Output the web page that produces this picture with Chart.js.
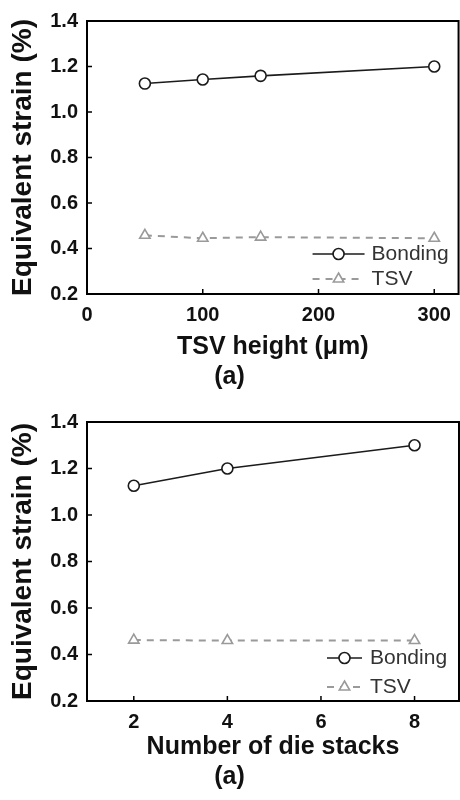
<!DOCTYPE html>
<html>
<head>
<meta charset="utf-8">
<title>Equivalent strain</title>
<script src="https://cdn.jsdelivr.net/npm/chart.js@4.4.1/dist/chart.umd.min.js"></script>
<style>
  html, body { margin: 0; padding: 0; background: #fff; }
  .panel { position: relative; width: 460px; height: 400px; }
</style>
</head>
<body>
<div class="panel"><canvas id="chart-height"></canvas></div>
<div class="panel"><canvas id="chart-stacks"></canvas></div>
<script>
// -- Data --
var tsvHeights = [50, 100, 150, 300];
var bondingByHeight = [1.125, 1.143, 1.159, 1.2];
var tsvByHeight = [0.458, 0.445, 0.45, 0.445];
var heightTicks = [0, 100, 200, 300];

var dieStacks = [2, 4, 8];
var bondingByStacks = [1.126, 1.2, 1.3];
var tsvByStacks = [0.462, 0.46, 0.46];
var stackTicks = [2, 4, 6, 8];

var strainTicks = [0.2, 0.4, 0.6, 0.8, 1.0, 1.2, 1.4];

var seriesNames = ['Bonding', 'TSV'];

Chart.defaults.font.family = '"Liberation Sans", Arial, sans-serif';
Chart.defaults.color = '#111';

var bondingColor = '#1b1b1b';
var tsvColor = '#9a9a9a';

function toPoints(xs, ys) {
  var out = [];
  for (var i = 0; i < xs.length; i++) {
    out.push({ x: xs[i], y: ys[i] });
  }
  return out;
}

// frame box, inward tick marks and the in-plot legend
var framePlugin = {
  id: 'frame',
  afterDraw: function (chart, args, opts) {
    var ctx = chart.ctx;
    var area = chart.chartArea;
    var xs = chart.scales.x;
    var ys = chart.scales.y;
    ctx.save();
    ctx.strokeStyle = '#000';
    ctx.lineWidth = 2;
    ctx.strokeRect(area.left, area.top, area.right - area.left, area.bottom - area.top);

    ctx.lineWidth = 1.5;
    ctx.beginPath();
    xs.ticks.forEach(function (t) {
      var px = xs.getPixelForValue(t.value);
      ctx.moveTo(px, area.bottom);
      ctx.lineTo(px, area.bottom - 5);
    });
    ys.ticks.forEach(function (t) {
      var py = ys.getPixelForValue(t.value);
      ctx.moveTo(area.left, py);
      ctx.lineTo(area.left + 5, py);
    });
    ctx.stroke();

    // legend
    var lg = opts.legend;
    chart.data.datasets.forEach(function (ds, i) {
      var y = area.bottom - lg.rows[i];
      var x0 = area.right - lg.lineStart;
      var x1 = area.right - lg.lineEnd;
      ctx.strokeStyle = ds.borderColor;
      ctx.lineWidth = ds.borderWidth;
      ctx.setLineDash(ds.borderDash || []);
      ctx.beginPath();
      ctx.moveTo(x0, y);
      ctx.lineTo(x1, y);
      ctx.stroke();
      ctx.setLineDash([]);
      ctx.fillStyle = ds.pointBackgroundColor;
      ctx.strokeStyle = ds.pointBorderColor;
      ctx.lineWidth = ds.pointBorderWidth;
      Chart.helpers.drawPoint(ctx, {
        pointStyle: ds.pointStyle,
        radius: ds.pointRadius,
        rotation: 0,
        borderWidth: ds.pointBorderWidth
      }, (x0 + x1) / 2, y);
      ctx.fillStyle = '#333';
      ctx.font = '21px "Liberation Sans", Arial, sans-serif';
      ctx.textAlign = 'left';
      ctx.textBaseline = 'middle';
      ctx.fillText(ds.label, area.right - lg.textStart, y);
    });
    ctx.restore();
  }
};

function buildChart(canvasId, cfg) {
  new Chart(document.getElementById(canvasId).getContext('2d'), {
    type: 'line',
    data: {
      datasets: [
        {
          label: seriesNames[0],
          data: toPoints(cfg.xs, cfg.bonding),
          borderColor: bondingColor,
          borderWidth: 1.6,
          pointStyle: 'circle',
          pointRadius: 5.5,
          pointBackgroundColor: '#fff',
          pointBorderColor: bondingColor,
          pointBorderWidth: 1.6,
          tension: 0
        },
        {
          label: seriesNames[1],
          data: toPoints(cfg.xs, cfg.tsv),
          borderColor: tsvColor,
          borderWidth: 2,
          borderDash: [7, 6],
          pointStyle: 'triangle',
          pointRadius: 6,
          pointBackgroundColor: '#fff',
          pointBorderColor: tsvColor,
          pointBorderWidth: 1.6,
          tension: 0
        }
      ]
    },
    options: {
      responsive: true,
      maintainAspectRatio: false,
      animation: false,
      events: [],
      layout: { autoPadding: false, padding: { top: cfg.top, right: 1, left: 0, bottom: 0 } },
      plugins: {
        legend: { display: false },
        tooltip: { enabled: false },
        title: {
          display: true,
          text: '(a)',
          position: 'bottom',
          color: '#111',
          font: { size: 25, weight: 'bold', lineHeight: 1.2 },
          padding: { top: 0, bottom: 8 }
        },
        frame: { legend: cfg.legend }
      },
      scales: {
        x: {
          type: 'linear',
          min: cfg.xMin,
          max: cfg.xMax,
          afterBuildTicks: function (scale) {
            scale.ticks = cfg.xTicks.map(function (v) { return { value: v }; });
          },
          afterFit: function (scale) { scale.height = cfg.xHeight; },
          grid: { display: false, drawTicks: false },
          border: { display: false },
          ticks: {
            padding: 9,
            color: '#111',
            font: { size: 20, weight: 'bold' }
          },
          title: {
            display: true,
            text: cfg.xTitle,
            color: '#111',
            font: { size: 25, weight: 'bold', lineHeight: 1.2 },
            padding: { top: 0, bottom: 0 }
          }
        },
        y: {
          min: 0.2,
          max: 1.4,
          afterBuildTicks: function (scale) {
            scale.ticks = strainTicks.map(function (v) { return { value: v }; });
          },
          afterFit: function (scale) { scale.width = 87; },
          grid: { display: false, drawTicks: false },
          border: { display: false },
          ticks: {
            padding: 9,
            color: '#111',
            font: { size: 20, weight: 'bold' },
            callback: function (v) { return v.toFixed(1); }
          },
          title: {
            display: true,
            text: 'Equivalent strain (%)',
            color: '#111',
            font: { size: 28, weight: 'bold', lineHeight: 1.2 },
            padding: { top: 6, bottom: 0 }
          }
        }
      }
    },
    plugins: [framePlugin]
  });
}

// -- Panel 1: TSV height --
buildChart('chart-height', {
  xs: tsvHeights,
  bonding: bondingByHeight,
  tsv: tsvByHeight,
  xTicks: heightTicks,
  xMin: 0,
  xMax: 321,
  xTitle: 'TSV height (\u03bcm)',
  top: 17,
  xHeight: 68,
  legend: { rows: [40, 15], lineStart: 146, lineEnd: 94, textStart: 87 }
});

// -- Panel 2: number of die stacks --
buildChart('chart-stacks', {
  xs: dieStacks,
  bonding: bondingByStacks,
  tsv: tsvByStacks,
  xTicks: stackTicks,
  xMin: 1,
  xMax: 8.95,
  xTitle: 'Number of die stacks',
  top: 22,
  xHeight: 61,
  legend: { rows: [43, 14], lineStart: 132, lineEnd: 97, textStart: 89 }
});
</script>
</body>
</html>
